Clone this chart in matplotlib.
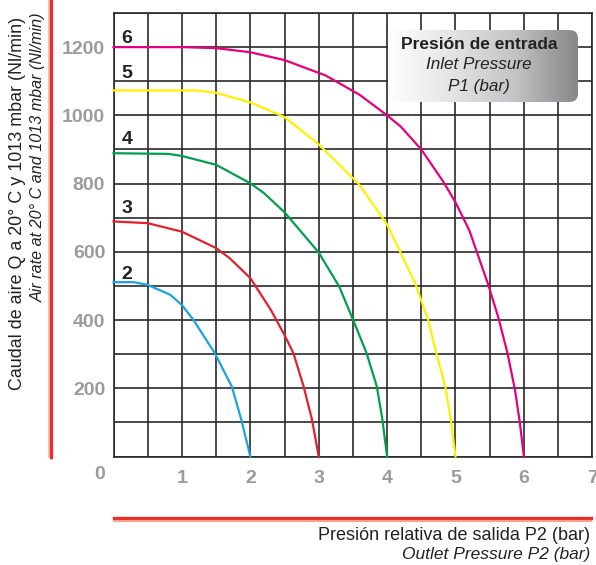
import numpy as np
import matplotlib
matplotlib.use("Agg")
import matplotlib.pyplot as plt
from matplotlib.lines import Line2D
from matplotlib.patches import FancyBboxPatch
from matplotlib.colors import LinearSegmentedColormap

plt.rcParams['font.family'] = ['Liberation Sans', 'DejaVu Sans']

# outlet pressure P2 (bar) vs air flow (Nl/min), one curve per inlet pressure P1
p1_labels = ['2', '3', '4', '5', '6']

p2_bar_2 = [0, 0.3, 0.5, 0.83, 1.0, 1.17, 1.48, 1.73, 1.87, 2.0]
flow_2 = [511, 511, 503, 474, 444, 400, 303, 205, 107, 0]

p2_bar_3 = [0, 0.5, 1.0, 1.5, 1.7, 2.0, 2.3, 2.5, 2.63, 2.78, 2.9, 3.0]
flow_3 = [689, 684, 659, 611, 581, 523, 430, 356, 303, 205, 110, 0]

p2_bar_4 = [0, 0.8, 1.0, 1.5, 2.0, 2.2, 2.5, 3.0, 3.3, 3.5, 3.7, 3.85, 3.93, 4.0]
flow_4 = [889, 887, 881, 855, 801, 772, 716, 598, 498, 402, 303, 205, 110, 0]

p2_bar_5 = [0, 1.2, 1.5, 2.0, 2.5, 3.0, 3.58, 3.75, 4.0, 4.41, 4.6, 4.72, 4.85, 4.93, 5.0]
flow_5 = [1073, 1073, 1066, 1038, 995, 915, 800, 752, 680, 508, 400, 303, 205, 110, 0]

p2_bar_6 = [0, 1.0, 1.5, 2.0, 2.5, 3.1, 3.6, 4.0, 4.2, 4.5, 4.82, 5.0, 5.2, 5.48, 5.63, 5.76, 5.87, 5.94, 6.0]
flow_6 = [1200, 1200, 1197, 1185, 1162, 1117, 1060, 1000, 967, 900, 806, 745, 664, 503, 405, 303, 195, 100, 0]

curve_colors = ['#1ba3e0', '#e5202a', '#00a04b', '#fff000', '#e6007e']
label_flow = [534, 726, 928, 1124, 1226]

x_ticks = [1, 2, 3, 4, 5, 6, 7]
y_ticks = [200, 400, 600, 800, 1000, 1200]

W, H = 596, 565
fig = plt.figure(figsize=(W / 100, H / 100), dpi=100)
ax = fig.add_axes([113.5 / W, 108.5 / H, 478.8 / W, 443.5 / H])

ax.set_xlim(0, 7)
ax.set_ylim(0, 1300)
ax.set_xticks(x_ticks)
ax.set_yticks(y_ticks)
ax.set_xticks(np.arange(0, 7.01, 0.5), minor=True)
ax.set_yticks(np.arange(0, 1301, 100), minor=True)
ax.grid(which='both', color='#2a2a2a', linewidth=1.2)
ax.set_axisbelow(True)
ax.tick_params(which='both', length=0)
ax.tick_params(axis='x', pad=10)
ax.tick_params(axis='y', pad=6)
for lab in ax.get_xticklabels() + ax.get_yticklabels():
    lab.set_color('#9b9b9b')
    lab.set_fontweight('bold')
    lab.set_fontsize(14)
ax.text(-0.21, -54, '0', color='#9b9b9b', fontsize=14, fontweight='bold',
        ha='center', va='center', clip_on=False)
for s in ax.spines.values():
    s.set_color('#2a2a2a')
    s.set_linewidth(1.2)

xs = [p2_bar_2, p2_bar_3, p2_bar_4, p2_bar_5, p2_bar_6]
ys = [flow_2, flow_3, flow_4, flow_5, flow_6]
for x, y, c, lab, ly in zip(xs, ys, curve_colors, p1_labels, label_flow):
    ax.plot(x, y, color=c, linewidth=1.6, zorder=3, clip_on=False)
    ax.text(0.2, ly, lab, fontsize=14, fontweight='bold', color='#222222',
            ha='center', va='center', zorder=4)

# legend box with grey gradient
bx, by, bw, bh = 388, 30, 190, 72
lax = fig.add_axes([bx / W, 1 - (by + bh) / H, bw / W, bh / H])
lax.set_xlim(0, 1)
lax.set_ylim(0, 1)
lax.axis('off')
cmap = LinearSegmentedColormap.from_list('box', ['#ffffff', '#e4e4e5', '#c4c4c6', '#858588'])
grad = np.linspace(0, 1, 256).reshape(1, -1)
box = FancyBboxPatch((0, 0), 1, 1, boxstyle='round,pad=0,rounding_size=0.045',
                     mutation_aspect=bw / bh, transform=lax.transAxes,
                     facecolor='none', edgecolor='none')
lax.add_patch(box)
im = lax.imshow(grad, extent=[0, 1, 0, 1], aspect='auto', cmap=cmap)
im.set_clip_path(box)
lax.text(0.48, 0.80, 'Presión de entrada', fontsize=12.5, fontweight='bold',
         color='#222222', ha='center', va='center')
lax.text(0.48, 0.52, 'Inlet Pressure', fontsize=12.3, style='italic',
         color='#222222', ha='center', va='center')
lax.text(0.48, 0.22, 'P1 (bar)', fontsize=12.3, style='italic',
         color='#222222', ha='center', va='center')

# red accent lines
fig.add_artist(Line2D([49 / W, 49 / W], [1, 1 - 457 / H], color='#f7b3a3',
                      linewidth=1.2, transform=fig.transFigure))
fig.add_artist(Line2D([51 / W, 51 / W], [1, 1 - 457 / H], color='#e8302a',
                      linewidth=2.4, transform=fig.transFigure))
fig.add_artist(Line2D([114 / W, 591 / W], [1 - 518 / H, 1 - 518 / H], color='#e8302a',
                      linewidth=2.4, transform=fig.transFigure))
fig.add_artist(Line2D([114 / W, 591 / W], [1 - 521 / H, 1 - 521 / H], color='#f6a38a',
                      linewidth=1.5, transform=fig.transFigure))

# axis titles
fig.text(18 / W, 1 - 17 / H, 'Caudal de aire Q a 20° C y 1013 mbar (Nl/min)',
         rotation=90, fontsize=12.9, color='#222222', ha='center', va='top')
fig.text(38 / W, 1 - 12 / H, 'Air rate at 20° C and 1013 mbar (Nl/min)',
         rotation=90, fontsize=11.6, style='italic', color='#222222', ha='center', va='top')
fig.text(590 / W, 1 - 535 / H, 'Presión relativa de salida P2 (bar)',
         fontsize=13, color='#222222', ha='right', va='center')
fig.text(590 / W, 1 - 555 / H, 'Outlet Pressure P2 (bar)',
         fontsize=12.5, style='italic', color='#222222', ha='right', va='center')

fig.savefig('out.png', dpi=100)
